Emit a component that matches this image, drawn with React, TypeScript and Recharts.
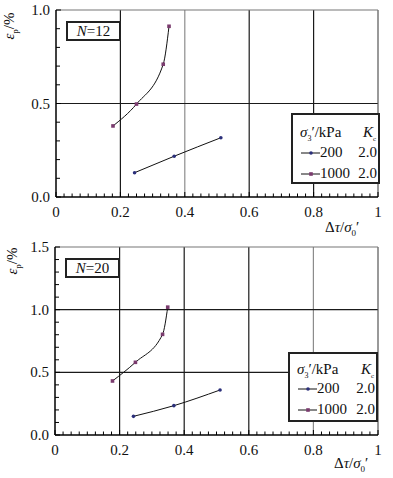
import { LineChart, Line, XAxis, YAxis, ReferenceLine } from 'recharts';

// Δτ/σ0' vs εp/% for two cycle counts, two confining pressures each
const n12Sigma200 = [
  { x: 0.244, y: 0.13 },
  { x: 0.367, y: 0.218 },
  { x: 0.512, y: 0.317 },
];
const n12Sigma1000 = [
  { x: 0.177, y: 0.38 },
  { x: 0.25, y: 0.497 },
  { x: 0.333, y: 0.71 },
  { x: 0.351, y: 0.913 },
];
const n20Sigma200 = [
  { x: 0.243, y: 0.149 },
  { x: 0.368, y: 0.234 },
  { x: 0.511, y: 0.359 },
];
const n20Sigma1000 = [
  { x: 0.178, y: 0.431 },
  { x: 0.249, y: 0.58 },
  { x: 0.333, y: 0.803 },
  { x: 0.349, y: 1.02 },
];

const legendRows = [
  { sigma: '200', kc: '2.0', marker: 'dot' },
  { sigma: '1000', kc: '2.0', marker: 'square' },
];

const xMajor = [0, 0.2, 0.4, 0.6, 0.8, 1];
const xLabels = ['0', '0.2', '0.4', '0.6', '0.8', '1'];
const xMinor = Array.from({ length: 41 }, (_, i) => +(i * 0.025).toFixed(3));
const xGrid = [0.2, 0.4, 0.6, 0.8];

const topYMajor = [0, 0.5, 1];
const topYLabels = ['0.0', '0.5', '1.0'];
const bottomYMajor = [0, 0.5, 1, 1.5];
const bottomYLabels = ['0.0', '0.5', '1.0', '1.5'];

const FONT = '"Liberation Serif", "DejaVu Serif", serif';
const NAVY = '#2b2f7a';
const PURPLE = '#7a3b6e';

const near = (a: number, b: number) => Math.abs(a - b) < 1e-6;

function makeXTick() {
  return (props: any) => {
    const { x, y, payload } = props;
    const idx = xMajor.findIndex((m) => near(m, payload.value));
    const major = idx >= 0;
    return (
      <g>
        <line x1={x} x2={x} y1={y} y2={y - (major ? 5 : 3.5)} stroke="#000" strokeWidth={1} />
        {major && (
          <text x={x} y={y + 20} textAnchor="middle" fontSize={15} fontFamily={FONT} fill="#111">
            {xLabels[idx]}
          </text>
        )}
      </g>
    );
  };
}

function makeYTick(major: number[], labels: string[]) {
  return (props: any) => {
    const { x, y, payload } = props;
    const idx = major.findIndex((m) => near(m, payload.value));
    return (
      <g>
        <line x1={x} x2={x + (idx >= 0 ? 5 : 4)} y1={y} y2={y} stroke="#000" strokeWidth={1} />
        {idx >= 0 && (
          <text x={x - 6} y={y + 5} textAnchor="end" fontSize={15} fontFamily={FONT} fill="#111">
            {labels[idx]}
          </text>
        )}
      </g>
    );
  };
}

const dotShape = (props: any) => {
  const { cx, cy } = props;
  return <circle cx={cx} cy={cy} r={1.8} fill={NAVY} />;
};
const squareShape = (props: any) => {
  const { cx, cy } = props;
  return <rect x={cx - 1.8} y={cy - 1.8} width={3.6} height={3.6} fill={PURPLE} />;
};

function Panel({
  top,
  plotLeft,
  plotTop,
  plotBottomGap,
  yMax,
  yMajor,
  yLabels,
  low,
  high,
  grayX,
}: {
  top: number;
  plotLeft: number;
  plotTop: number;
  plotBottomGap: number;
  yMax: number;
  yMajor: number[];
  yLabels: string[];
  low: { x: number; y: number }[];
  high: { x: number; y: number }[];
  grayX: number;
}) {
  const yMinor = Array.from({ length: Math.round(yMax * 10) + 1 }, (_, i) => +(i * 0.1).toFixed(2));
  const yGrid = yMajor.filter((v) => v > 0 && v < yMax);
  const yAxisW = 40;
  const xAxisH = 30;
  return (
    <div style={{ position: 'absolute', left: 0, top }}>
      <LineChart
        width={393}
        height={239}
        margin={{
          top: plotTop,
          right: 15,
          bottom: plotBottomGap - xAxisH,
          left: plotLeft - yAxisW,
        }}
      >
        <XAxis
          type="number"
          dataKey="x"
          domain={[0, 1]}
          ticks={xMinor}
          interval={0}
          height={xAxisH}
          tickSize={0}
          tickMargin={0}
          tickLine={false}
          tick={makeXTick()}
          axisLine={{ stroke: '#000', strokeWidth: 1.5 }}
        />
        <YAxis
          type="number"
          dataKey="y"
          domain={[0, yMax]}
          ticks={yMinor}
          interval={0}
          width={yAxisW}
          tickSize={0}
          tickMargin={0}
          tickLine={false}
          tick={makeYTick(yMajor, yLabels)}
          axisLine={{ stroke: '#000', strokeWidth: 1.5 }}
        />
        {xGrid.map((v) => (
          <ReferenceLine
            key={'vx' + v}
            x={v}
            stroke={near(v, grayX) ? '#8c8c8c' : '#1a1a1a'}
            strokeWidth={1.2}
          />
        ))}
        {yGrid.map((v) => (
          <ReferenceLine key={'hy' + v} y={v} stroke="#1a1a1a" strokeWidth={1.2} />
        ))}
        <ReferenceLine x={1} stroke="#555" strokeWidth={1.2} />
        <ReferenceLine y={yMax} stroke="#777" strokeWidth={1.2} />
        <Line
          data={low}
          dataKey="y"
          type="monotone"
          stroke="#111"
          strokeWidth={1}
          dot={dotShape}
          activeDot={false}
          isAnimationActive={false}
        />
        <Line
          data={high}
          dataKey="y"
          type="monotone"
          stroke="#111"
          strokeWidth={1}
          dot={squareShape}
          activeDot={false}
          isAnimationActive={false}
        />
      </LineChart>
    </div>
  );
}

function NBox({ left, top, n }: { left: number; top: number; n: string }) {
  return (
    <div
      style={{
        position: 'absolute',
        left,
        top,
        width: 51,
        height: 16,
        border: '2px solid #222',
        background: '#fff',
        fontFamily: FONT,
        fontSize: 15,
        lineHeight: '16px',
        textAlign: 'center',
        color: '#111',
      }}
    >
      <i>N</i>={n}
    </div>
  );
}

function LegendBox({
  left,
  top,
  width,
  height,
  rowTops,
}: {
  left: number;
  top: number;
  width: number;
  height: number;
  rowTops: number[];
}) {
  const textStyle: any = {
    position: 'absolute',
    fontFamily: FONT,
    fontSize: 15,
    lineHeight: '16px',
    color: '#111',
    whiteSpace: 'nowrap',
  };
  return (
    <div
      style={{
        position: 'absolute',
        left,
        top,
        width,
        height,
        border: '2px solid #222',
        background: '#fff',
        boxSizing: 'border-box',
      }}
    >
      <div style={{ ...textStyle, left: 7, top: rowTops[0] }}>
        <i>σ</i>
        <sub style={{ fontSize: 8 }}>3</sub>′/kPa
      </div>
      <div style={{ ...textStyle, right: 2, top: rowTops[0] }}>
        <i>K</i>
        <sub style={{ fontSize: 7 }}>c</sub>
      </div>
      {legendRows.map((r, i) => (
        <div key={r.sigma} style={{ ...textStyle, left: 8, top: rowTops[i + 1], right: 1 }}>
          <svg width={19} height={16} style={{ verticalAlign: 'top' }}>
            <line x1={0} x2={19} y1={9} y2={9} stroke="#111" strokeWidth={1} />
            {r.marker === 'dot' ? (
              <circle cx={10} cy={9} r={1.8} fill={NAVY} />
            ) : (
              <rect x={8.2} y={7.2} width={3.6} height={3.6} fill={PURPLE} />
            )}
          </svg>
          <span>{r.sigma}</span>
          <span style={{ position: 'absolute', right: 0 }}>{r.kc}</span>
        </div>
      ))}
    </div>
  );
}

function XTitle({ left, top }: { left: number; top: number }) {
  return (
    <div
      style={{
        position: 'absolute',
        left,
        top,
        fontFamily: FONT,
        fontSize: 15,
        lineHeight: '16px',
        color: '#111',
        whiteSpace: 'nowrap',
      }}
    >
      Δ<i>τ</i>/<i>σ</i>
      <sub style={{ fontSize: 9 }}>0</sub>′
    </div>
  );
}

function YTitle({ cx, cy }: { cx: number; cy: number }) {
  return (
    <div
      style={{
        position: 'absolute',
        left: cx - 30,
        top: cy - 8,
        width: 60,
        textAlign: 'center',
        transform: 'rotate(-90deg)',
        fontFamily: FONT,
        fontSize: 15,
        lineHeight: '16px',
        color: '#111',
        whiteSpace: 'nowrap',
      }}
    >
      <i>ε</i>
      <sub style={{ fontSize: 9 }}>p</sub>/%
    </div>
  );
}

export default function App() {
  return (
    <div
      style={{
        position: 'absolute',
        left: 0,
        top: 0,
        width: 393,
        height: 478,
        background: '#fff',
        overflow: 'hidden',
      }}
    >
      <Panel
        top={0}
        plotLeft={56}
        plotTop={10}
        plotBottomGap={42}
        yMax={1}
        yMajor={topYMajor}
        yLabels={topYLabels}
        low={n12Sigma200}
        high={n12Sigma1000}
        grayX={0.4}
      />
      <Panel
        top={239}
        plotLeft={55}
        plotTop={8}
        plotBottomGap={43}
        yMax={1.5}
        yMajor={bottomYMajor}
        yLabels={bottomYLabels}
        low={n20Sigma200}
        high={n20Sigma1000}
        grayX={0.8}
      />
      <NBox left={66} top={21} n="12" />
      <NBox left={65} top={258} n="20" />
      <LegendBox left={291} top={113} width={89} height={71} rowTops={[9, 29, 50]} />
      <LegendBox left={288} top={352} width={90} height={70} rowTops={[7, 26, 47]} />
      <XTitle left={325} top={219} />
      <XTitle left={334} top={455} />
      <YTitle cx={12} cy={23} />
      <YTitle cx={15} cy={258} />
    </div>
  );
}
